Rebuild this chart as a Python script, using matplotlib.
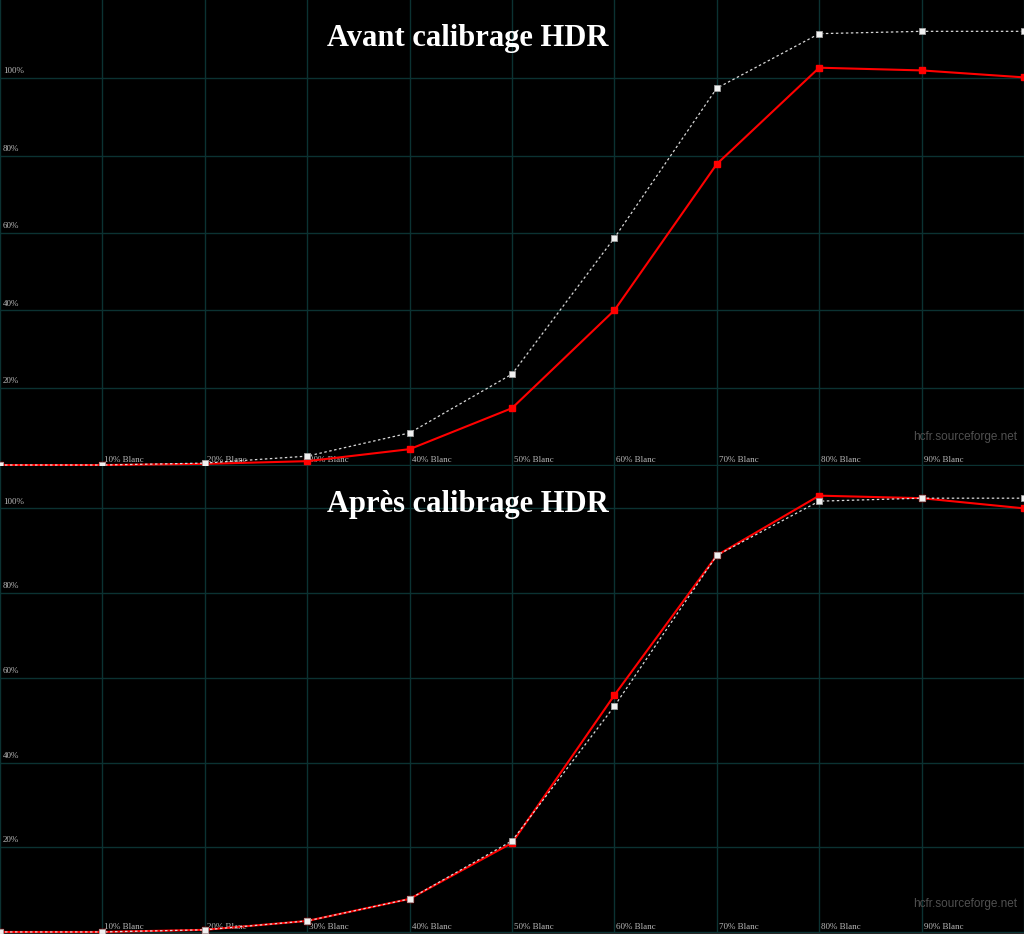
import matplotlib
matplotlib.use("Agg")
import matplotlib.pyplot as plt

# stimulus levels (% white)
levels = [0, 10, 20, 30, 40, 50, 60, 70, 80, 90, 100]
tick_labels = ["10% Blanc", "20% Blanc", "30% Blanc", "40% Blanc", "50% Blanc",
               "60% Blanc", "70% Blanc", "80% Blanc", "90% Blanc"]
y_ticks = [20, 40, 60, 80, 100]

# before calibration
avant_ref = [0, 0, 0.5, 2.3, 8.3, 23.5, 58.7, 97.4, 111.5, 112.1, 112.1]
avant_mes = [0, 0, 0.3, 1.0, 4.1, 14.7, 40.0, 77.8, 102.7, 102.0, 100.2]

# after calibration
apres_ref = [0, 0, 0.5, 2.6, 7.8, 21.5, 53.3, 88.9, 101.7, 102.4, 102.4]
apres_mes = [0, 0, 0.5, 2.6, 7.8, 21.0, 55.9, 88.9, 103.0, 102.4, 100.0]

W, H = 1024, 934
GRID = "#0b3232"
LABEL = "#b8b8b8"


def draw_panel(ax, ref, mes, title, ylim):
    ax.set_facecolor("black")
    ax.set_xlim(0, 100)
    ax.set_ylim(*ylim)
    for s in ax.spines.values():
        s.set_visible(False)
    ax.set_xticks([])
    ax.set_yticks([])
    for x in range(0, 101, 10):
        ax.axvline(x, color=GRID, lw=1, zorder=1)
    for y in [0] + y_ticks:
        ax.axhline(y, color=GRID, lw=1, zorder=1)
    for y in y_ticks:
        ax.annotate(f"{y}%", (0, y), xytext=(2, 2), textcoords="offset points",
                    color=LABEL, fontsize=6.5, family="Liberation Serif",
                    va="bottom", ha="left", zorder=2)
    for x, lab in zip(levels[1:-1], tick_labels):
        ax.annotate(lab, (x, 0), xytext=(1.5, 0.8), textcoords="offset points",
                    color=LABEL, fontsize=6.5, family="Liberation Serif",
                    va="bottom", ha="left", zorder=2)
    ax.plot(levels, mes, color="#ff0000", lw=1.5, marker="s", ms=5,
            mec="#ff0000", mfc="#ff0000", zorder=4)
    ax.plot(levels, ref, color="#d8d8d8", lw=0.9, ls=(0, (2, 2)), marker="s",
            ms=5, mec="#a0a0a0", mfc="#f0f0f0", mew=0.6, zorder=5)
    ax.text(0.457, 0.917, title, transform=ax.transAxes, ha="center",
            va="center", color="white", fontsize=22, fontweight="bold",
            family="Liberation Serif", zorder=6)
    ax.text(0.993, 0.062, "hcfr.sourceforge.net", transform=ax.transAxes,
            ha="right", va="center", color="#505050", fontsize=8.5,
            family="Liberation Sans", zorder=6)


fig = plt.figure(figsize=(W / 100, H / 100), dpi=100, facecolor="black")
ax_top = fig.add_axes([0, (H - 466) / H, 1, 466 / H])
ax_bot = fig.add_axes([0, 1 / H, 1, 467 / H])

draw_panel(ax_top, avant_ref, avant_mes, "Avant calibrage HDR", (-0.25, 120.2))
draw_panel(ax_bot, apres_ref, apres_mes, "Après calibrage HDR", (-0.25, 110))

# thin light border at the very bottom edge
fig.add_artist(plt.Line2D([0, 1], [0.5 / H, 0.5 / H], color="#d0d0d0", lw=1,
                          transform=fig.transFigure))

fig.savefig("out.png", dpi=100, facecolor="black")
